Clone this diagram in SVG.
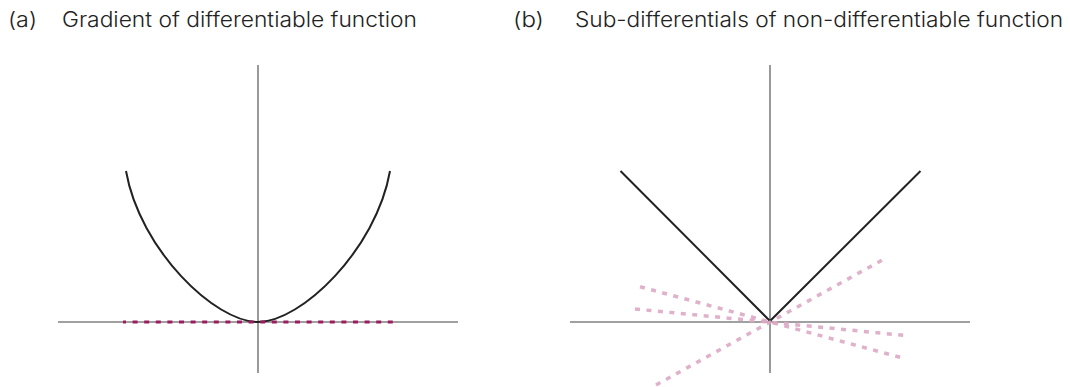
<svg xmlns="http://www.w3.org/2000/svg" width="1070" height="387" viewBox="0 0 1070 387">
<style>
.t{font-family:Inter,"Noto Sans","Liberation Sans",sans-serif;font-size:21px;font-weight:300;fill:#222}
.ax{stroke:#808080;stroke-width:1.6;fill:none}
.axv{stroke:#555;stroke-width:1.2;fill:none}
.fn{stroke:#222;stroke-width:2;fill:none}
.grad{stroke:#9c1c5e;stroke-width:3;stroke-dasharray:5 6.6;stroke-dashoffset:2;fill:none}
.sub{stroke:#dca8c4;stroke-width:3.5;stroke-dasharray:5 6.5;fill:none;opacity:0.9}
</style>
<rect width="1070" height="387" fill="#fff"/>
<g id="title-a"><text class="t" x="8" y="27" textLength="29" lengthAdjust="spacingAndGlyphs">(a)</text><text class="t" x="62" y="27" textLength="355" lengthAdjust="spacingAndGlyphs">Gradient of differentiable function</text></g>
<g id="title-b"><text class="t" x="513" y="27" textLength="31" lengthAdjust="spacingAndGlyphs">(b)</text><text class="t" x="575" y="27" textLength="488" lengthAdjust="spacingAndGlyphs">Sub-differentials of non-differentiable function</text></g>
<g id="axes-a">
<line class="ax" x1="58" y1="322" x2="458" y2="322"/>
<line class="axv" x1="258" y1="65" x2="258" y2="373"/>
</g>
<g id="curve-a"><path class="fn" d="M126,171 C140,250 215,322 258,322 C301,322 376,250 390,171"/></g>
<g id="axes-b">
<line class="ax" x1="570" y1="322" x2="970" y2="322"/>
<line class="axv" x1="770" y1="65" x2="770" y2="373"/>
</g>
<g id="curve-b"><path class="fn" d="M620.5,171 L770,321 L920.5,171"/></g>
<g id="connectors">
<line class="grad" x1="123" y1="322" x2="393" y2="322"/>
<line class="sub" x1="640" y1="286.7" x2="901" y2="357.5"/>
<line class="sub" x1="635" y1="309" x2="907" y2="335.7"/>
<line class="sub" x1="656" y1="385" x2="886" y2="258"/>
</g>
</svg>
